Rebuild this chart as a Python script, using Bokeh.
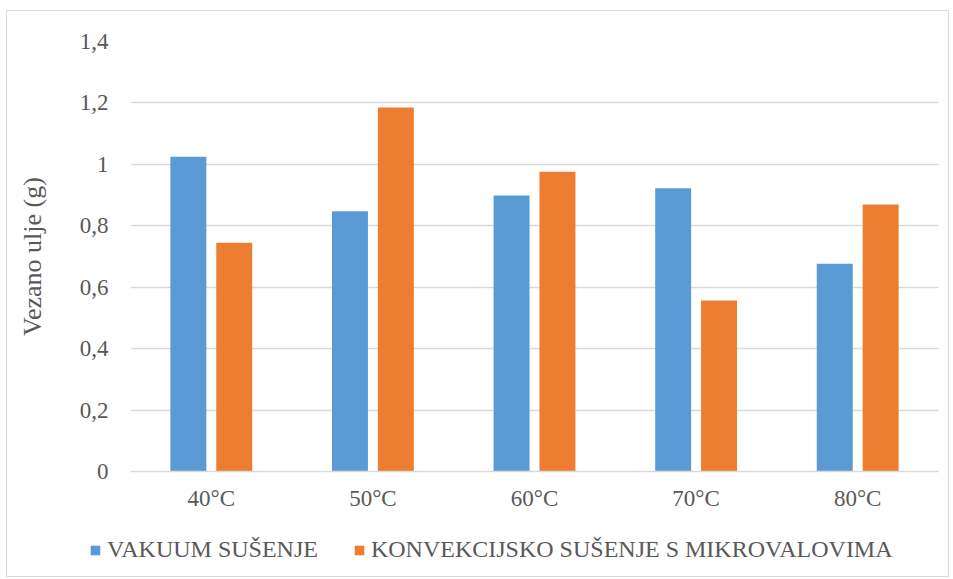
from bokeh.plotting import figure
from bokeh.models import (ColumnDataSource, FactorRange, Range1d, Legend, LegendItem,
                          FixedTicker, CustomJSTickFormatter)
from bokeh.transform import dodge
from bokeh.embed import file_html
from bokeh.resources import INLINE

categories = ["40°C", "50°C", "60°C", "70°C", "80°C"]
vakuum = [1.025, 0.847, 0.899, 0.922, 0.676]
konvekcijsko = [0.745, 1.185, 0.976, 0.557, 0.869]
y_ticks = [0, 0.2, 0.4, 0.6, 0.8, 1.0, 1.2, 1.4]
series_names = ["VAKUUM SUŠENJE", "KONVEKCIJSKO SUŠENJE S MIKROVALOVIMA"]
y_label = "Vezano ulje (g)"

BLUE = "#5B9BD5"
ORANGE = "#ED7D31"
TEXT = "#595959"
GRID = "#D9D9D9"
FONT = "Liberation Serif"
EDGE = "1px solid #D9D9D9"

source = ColumnDataSource(dict(cat=categories, vakuum=vakuum, konv=konvekcijsko))

p = figure(width=943, height=505, x_range=FactorRange(*categories), y_range=Range1d(0, 1.4),
           output_backend="svg", toolbar_location=None,
           min_border_left=123, min_border_right=12, min_border_top=30, min_border_bottom=45)
p.styles = {"border-top": EDGE, "border-left": EDGE, "border-right": EDGE,
            "margin-left": "6px", "margin-top": "10px"}
p.outline_line_color = None
p.background_fill_color = "white"
p.border_fill_color = "white"

p.vbar(x=dodge("cat", -0.142, range=p.x_range), top="vakuum", width=0.2226,
       source=source, fill_color=BLUE, line_color=None)
p.vbar(x=dodge("cat", 0.142, range=p.x_range), top="konv", width=0.2226,
       source=source, fill_color=ORANGE, line_color=None)

p.xgrid.grid_line_color = None
p.ygrid.grid_line_color = GRID
p.ygrid.grid_line_width = 1.3
p.yaxis.ticker = FixedTicker(ticks=y_ticks)
p.yaxis.formatter = CustomJSTickFormatter(code="""
    if (Math.abs(tick) < 1e-9) return '0';
    if (Math.abs(tick - 1) < 1e-9) return '1';
    return tick.toFixed(1).replace('.', ',');
""")
p.yaxis.axis_line_color = None
p.yaxis.major_tick_line_color = None
p.yaxis.minor_tick_line_color = None
p.yaxis.major_tick_out = 0
p.yaxis.major_tick_in = 0
p.yaxis.major_label_standoff = 22
p.yaxis.axis_label = y_label
p.yaxis.axis_label_standoff = 30
p.yaxis.axis_label_text_font = FONT
p.yaxis.axis_label_text_font_style = "normal"
p.yaxis.axis_label_text_font_size = "26px"
p.yaxis.axis_label_text_color = TEXT

p.xaxis.axis_line_color = GRID
p.xaxis.axis_line_width = 1.3
p.xaxis.major_tick_line_color = None
p.xaxis.minor_tick_line_color = None
p.xaxis.major_tick_out = 0
p.xaxis.major_tick_in = 0
p.xaxis.major_label_standoff = 14

for ax in (p.xaxis, p.yaxis):
    ax.major_label_text_font = FONT
    ax.major_label_text_font_size = "23px"
    ax.major_label_text_color = TEXT

# legend strip below the chart (separate root so its frame spans the full width)
lf = figure(width=943, height=62, x_range=FactorRange(*categories), y_range=Range1d(2, 3),
            output_backend="svg", toolbar_location=None, x_axis_type=None, y_axis_type=None,
            min_border_left=0, min_border_right=0, min_border_top=0, min_border_bottom=0)
lf.styles = {"border-bottom": EDGE, "border-left": EDGE, "border-right": EDGE,
             "margin-left": "6px"}
lf.outline_line_color = None
lf.xgrid.grid_line_color = None
lf.ygrid.grid_line_color = None
lf.background_fill_color = "white"
lf.border_fill_color = "white"
# same series, drawn outside this strip's visible range; used only for legend swatches
lr1 = lf.vbar(x="cat", top="vakuum", width=0.2, source=source, fill_color=BLUE, line_color=None)
lr2 = lf.vbar(x="cat", top="konv", width=0.2, source=source, fill_color=ORANGE, line_color=None)

legend = Legend(items=[LegendItem(label=series_names[0], renderers=[lr1]),
                       LegendItem(label=series_names[1], renderers=[lr2])],
                location=(82, 14), orientation="horizontal")
legend.padding = 0
legend.margin = 0
legend.spacing = 35
legend.border_line_color = None
legend.background_fill_alpha = 0
legend.glyph_width = 12
legend.glyph_height = 12
legend.label_height = 22
legend.label_standoff = 6
legend.label_text_font = FONT
legend.label_text_font_size = "24px"
legend.label_text_color = TEXT
lf.add_layout(legend, "center")

open("out.html", "w").write(file_html([p, lf], INLINE))
